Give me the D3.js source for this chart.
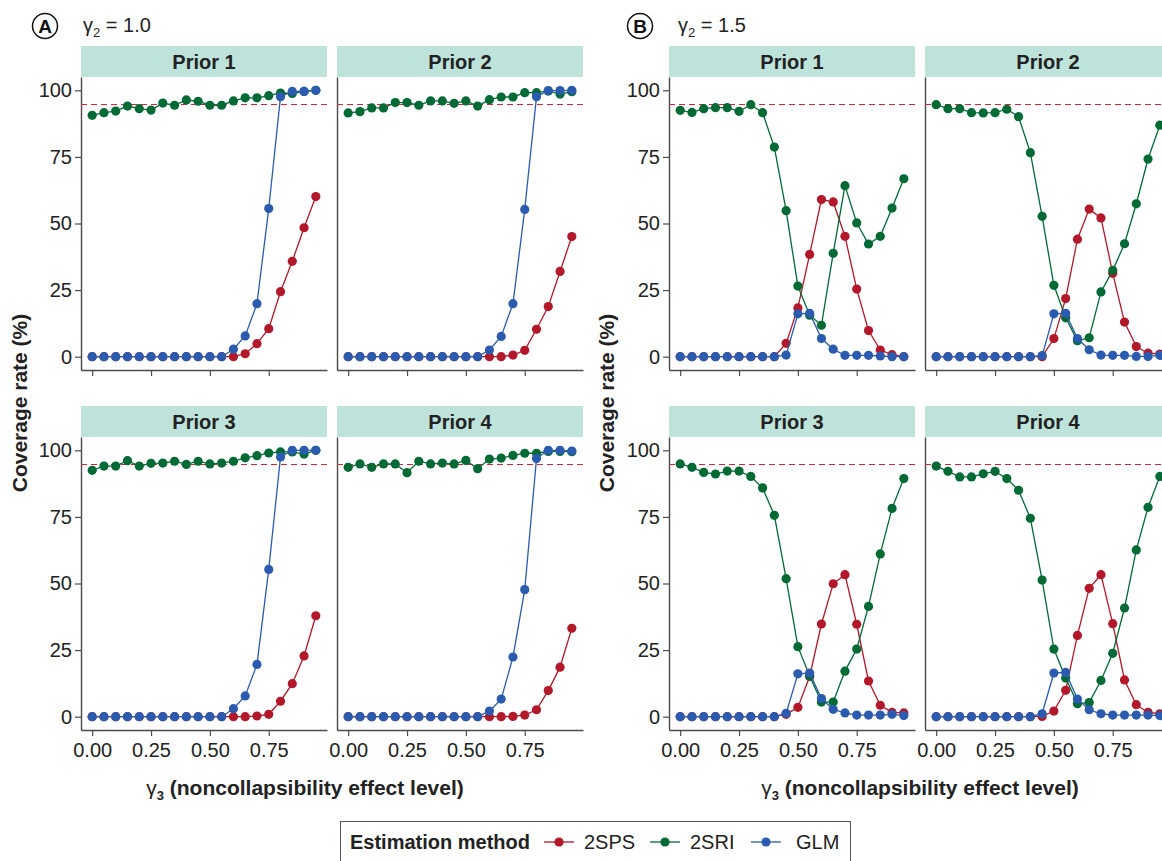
<!DOCTYPE html>
<html>
<head>
<meta charset="utf-8">
<script src="https://cdn.jsdelivr.net/npm/d3@7"></script>
<style>
  body { margin: 0; background: #fff; }
  svg { font-family: "Liberation Sans", Arial, sans-serif; }
</style>
</head>
<body>
<svg id="chart" width="1162" height="861"></svg>
<script>
// gamma3 levels
var gamma3 = [0, 0.05, 0.10, 0.15, 0.20, 0.25, 0.30, 0.35, 0.40, 0.45, 0.50, 0.55, 0.60, 0.65, 0.70, 0.75, 0.80, 0.85, 0.90, 0.95];
var methods = ["2SPS", "2SRI", "GLM"];
var priors = ["Prior 1", "Prior 2", "Prior 3", "Prior 4"];
var yTicks = [0, 25, 50, 75, 100];
var xTicks = [0, 0.25, 0.5, 0.75];
var nominal = 95;

// gamma2 = 1.0
var a1_2sps = [0,0,0,0,0,0,0,0,0,0,0,0,0,1.1,4.9,10.5,24.4,35.8,48.4,60.1];
var a1_2sri = [90.6,91.6,92.2,94.1,93.1,92.6,95.2,94.4,96.4,95.9,94.4,94.4,96.0,97.2,97.2,98.0,99.0,98.8,99.6,100];
var a1_glm  = [0,0,0,0,0,0,0,0,0,0,0,0,2.8,7.8,19.9,55.6,97.6,99.6,99.6,100];

var a2_2sps = [0,0,0,0,0,0,0,0,0,0,0,0,0,0,0.6,2.4,10.3,18.8,32.0,45.1];
var a2_2sri = [91.5,92.0,93.4,93.4,95.4,95.4,94.4,96.0,96.0,95.1,96.0,94.1,96.5,97.5,97.5,99.1,99.1,99.7,98.6,99.5];
var a2_glm  = [0,0,0,0,0,0,0,0,0,0,0,0,2.5,7.6,19.9,55.3,97.6,99.9,99.9,100];

var a3_2sps = [0,0,0,0,0,0,0,0,0,0,0,0,0,0,0.25,0.9,5.8,12.4,22.8,37.9];
var a3_2sri = [92.5,94.1,94.1,96.1,94.1,95.1,95.2,95.9,94.7,95.9,94.9,95.2,95.9,97.2,98.0,99.0,99.4,99.4,98.6,100];
var a3_glm  = [0,0,0,0,0,0,0,0,0,0,0,0,3.0,7.8,19.6,55.3,97.5,100,100,100];

var a4_2sps = [0,0,0,0,0,0,0,0,0,0,0,0,0,0,0.1,0.6,2.6,9.8,18.6,33.2];
var a4_2sri = [93.6,94.9,93.6,94.9,94.9,91.6,95.9,94.9,95.2,94.9,96.2,93.1,96.7,97.1,98.1,98.9,98.9,99.6,99.6,99.5];
var a4_glm  = [0,0,0,0,0,0,0,0,0,0,0,0,2.1,6.6,22.4,47.7,96.9,100,100,99.7];

// gamma2 = 1.5
var b1_2sps = [0,0,0,0,0,0,0,0,0,5.0,18.3,38.4,59.0,58.1,45.2,25.4,9.8,2.5,0.75,0];
var b1_2sri = [92.5,91.7,93.1,93.5,93.5,92.1,94.6,91.6,78.7,54.8,26.5,15.6,11.8,38.8,64.2,50.2,42.3,45.2,55.8,66.8];
var b1_glm  = [0,0,0,0,0,0,0,0,0,0.6,16.1,16.3,6.8,2.8,0.5,0.5,0.5,0.25,0,0];

var b2_2sps = [0,0,0,0,0,0,0,0,0,0,6.8,21.8,44.1,55.4,52.1,31.3,13.0,3.8,1.3,1.0];
var b2_2sri = [94.6,93.1,93.1,91.6,91.5,91.6,92.9,90.1,76.6,52.7,26.8,14.6,6.0,7.1,24.3,32.4,42.4,57.4,74.2,86.9];
var b2_glm  = [0,0,0,0,0,0,0,0,0,0.4,16.1,16.3,6.8,2.6,0.6,0.5,0.5,0.1,0.1,0.5];

var b3_2sps = [0,0,0,0,0,0,0,0,0,0.9,3.5,15.1,34.8,49.9,53.3,34.7,13.4,4.3,1.6,1.4];
var b3_2sri = [94.9,93.6,91.7,91.1,92.2,92.2,90.2,85.9,75.6,51.8,26.3,15.3,5.5,5.5,17.1,25.4,41.4,61.1,78.2,89.4];
var b3_glm  = [0,0,0,0,0,0,0,0,0,1.25,16.1,16.4,6.8,2.75,1.4,0.6,0.6,0.6,0.9,0.4];

var b4_2sps = [0,0,0,0,0,0,0,0,0,0.1,2.1,9.9,30.5,48.2,53.3,34.9,13.8,4.5,1.6,1.1];
var b4_2sri = [94.1,92.1,90.0,90.0,91.2,92.1,89.4,85.0,74.5,51.3,25.4,14.5,4.9,5.3,13.6,23.8,40.8,62.6,78.6,90.2];
var b4_glm  = [0,0,0,0,0,0,0,0,0,1.1,16.4,16.6,6.6,2.6,1.1,0.6,0.6,0.6,0.6,0.4];

var colors = {"2SPS": "#B3182A", "2SRI": "#006A34", "GLM": "#2B5BAE"};

var panels = [
  {group: 0, col: 0, row: 0, prior: priors[0], s: [a1_2sps, a1_2sri, a1_glm]},
  {group: 0, col: 1, row: 0, prior: priors[1], s: [a2_2sps, a2_2sri, a2_glm]},
  {group: 0, col: 0, row: 1, prior: priors[2], s: [a3_2sps, a3_2sri, a3_glm]},
  {group: 0, col: 1, row: 1, prior: priors[3], s: [a4_2sps, a4_2sri, a4_glm]},
  {group: 1, col: 0, row: 0, prior: priors[0], s: [b1_2sps, b1_2sri, b1_glm]},
  {group: 1, col: 1, row: 0, prior: priors[1], s: [b2_2sps, b2_2sri, b2_glm]},
  {group: 1, col: 0, row: 1, prior: priors[2], s: [b3_2sps, b3_2sri, b3_glm]},
  {group: 1, col: 1, row: 1, prior: priors[3], s: [b4_2sps, b4_2sri, b4_glm]}
];

var svg = d3.select("#chart");

var groupLeft = [81, 669],
    colStep = 256,
    panelW = 246,
    stripTop = [46, 406],
    stripH = 31,
    panelH = 293;

var axisColor = "#4a4a4a",
    textColor = "#222",
    fs = "20px",
    titleFs = "21px";

panels.forEach(function(p) {
    var left = groupLeft[p.group] + p.col * colStep;
    var top = stripTop[p.row];
    var pTop = top + stripH, pBot = pTop + panelH;

    var x = d3.scaleLinear().domain([-0.0475, 0.9975]).range([left, left + panelW]);
    var y = d3.scaleLinear().domain([-5, 105]).range([pBot, pTop]);

    // strip
    svg.append("rect")
        .attr("x", left).attr("y", top)
        .attr("width", panelW).attr("height", stripH)
        .attr("fill", "#BEE3DB");
    svg.append("text")
        .attr("x", left + panelW / 2).attr("y", top + stripH / 2 + 7)
        .attr("text-anchor", "middle")
        .style("font-size", fs).style("font-weight", "bold")
        .attr("fill", textColor)
        .text(p.prior);

    // axes
    var yAxis = d3.axisLeft(y).tickValues(yTicks).tickSize(6).tickSizeOuter(0).tickPadding(3);
    var gy = svg.append("g").attr("transform", "translate(" + left + ",0)").call(yAxis);
    var xAxis = d3.axisBottom(x).tickValues(xTicks).tickSize(6).tickSizeOuter(0).tickPadding(7)
        .tickFormat(d3.format(".2f"));
    var gx = svg.append("g").attr("transform", "translate(0," + pBot + ")").call(xAxis);

    [gy, gx].forEach(function(g) {
        g.select(".domain").attr("stroke", axisColor).attr("stroke-width", 1.4);
        g.selectAll(".tick line").attr("stroke", axisColor).attr("stroke-width", 1.2);
        g.selectAll(".tick text").attr("fill", textColor)
            .style("font-size", fs).style("font-family", "Liberation Sans, Arial, sans-serif");
    });
    if (p.col !== 0) gy.selectAll(".tick").remove();
    if (p.row === 0) gx.selectAll(".tick text").remove();

    // nominal 95% line
    var yn = Math.round(y(nominal)) + 0.5;
    svg.append("line")
        .attr("x1", left).attr("x2", left + panelW)
        .attr("y1", yn).attr("y2", yn)
        .attr("stroke", "#D3263A").attr("stroke-width", 1.2)
        .attr("stroke-dasharray", "6,4");

    var line = d3.line()
        .x(function(d, i) { return x(gamma3[i]); })
        .y(function(d) { return y(d); });

    p.s.forEach(function(vals, k) {
        var c = colors[methods[k]];
        var g = svg.append("g");
        g.append("path").datum(vals)
            .attr("d", line).attr("fill", "none")
            .attr("stroke", c).attr("stroke-width", 1.3);
        g.selectAll("circle").data(vals).enter().append("circle")
            .attr("cx", function(d, i) { return x(gamma3[i]); })
            .attr("cy", function(d) { return y(d); })
            .attr("r", 4.6)
            .attr("fill", c);
    });
});

// y titles
[20, 607].forEach(function(xx) {
    svg.append("text")
        .attr("transform", "translate(" + (xx + 7) + ",403) rotate(-90)")
        .attr("text-anchor", "middle")
        .style("font-size", titleFs).style("font-weight", "bold")
        .attr("fill", textColor)
        .text("Coverage rate (%)");
});

// x titles
[305, 920].forEach(function(cx) {
    var t = svg.append("text")
        .attr("x", cx).attr("y", 795)
        .attr("text-anchor", "middle")
        .style("font-size", titleFs).style("font-weight", "bold")
        .attr("fill", textColor);
    t.append("tspan").style("font-weight", "normal").text("γ");
    t.append("tspan").attr("dy", 5).style("font-size", "13px").text("3");
    t.append("tspan").attr("dy", -5).text(" (noncollapsibility effect level)");
});

// panel tags
var tags = [{x: 45, label: "A", g2: "1.0"}, {x: 640, label: "B", g2: "1.5"}];
tags.forEach(function(t) {
    svg.append("circle")
        .attr("cx", t.x).attr("cy", 26).attr("r", 12.5)
        .attr("fill", "none").attr("stroke", "#111").attr("stroke-width", 1.5);
    svg.append("text")
        .attr("x", t.x).attr("y", 33)
        .attr("text-anchor", "middle")
        .style("font-size", "19px").style("font-weight", "bold")
        .attr("fill", "#111")
        .text(t.label);
    var tx = svg.append("text")
        .attr("x", t.x + 38).attr("y", 32)
        .style("font-size", fs)
        .attr("fill", textColor);
    tx.append("tspan").text("γ");
    tx.append("tspan").attr("dy", 5).style("font-size", "13px").text("2");
    tx.append("tspan").attr("dy", -5).text(" = " + t.g2);
});

// legend
svg.append("rect")
    .attr("x", 340.5).attr("y", 821.5)
    .attr("width", 510).attr("height", 60)
    .attr("fill", "#fff").attr("stroke", "#555").attr("stroke-width", 1);
svg.append("text")
    .attr("x", 350).attr("y", 849)
    .style("font-size", fs).style("font-weight", "bold")
    .attr("fill", textColor)
    .text("Estimation method");

var legendX = [544, 650, 751];
methods.forEach(function(m, i) {
    var lx = legendX[i];
    svg.append("line")
        .attr("x1", lx).attr("x2", lx + 30)
        .attr("y1", 842).attr("y2", 842)
        .attr("stroke", colors[m]).attr("stroke-width", 1.3);
    svg.append("circle")
        .attr("cx", lx + 15).attr("cy", 842).attr("r", 4.6)
        .attr("fill", colors[m]);
    svg.append("text")
        .attr("x", lx + 40 + (m === "GLM" ? 5 : 0)).attr("y", 849)
        .style("font-size", fs)
        .attr("fill", textColor)
        .text(m);
});
</script>
</body>
</html>
